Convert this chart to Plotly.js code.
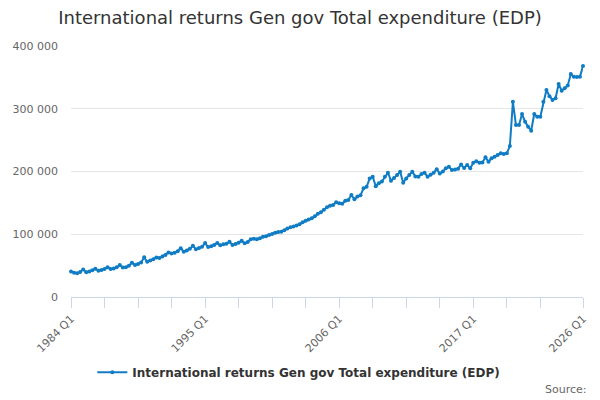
<!DOCTYPE html>
<html>
<head>
<meta charset="utf-8">
<script src="https://cdn.plot.ly/plotly-3.0.1.min.js"></script>
<style>
  html, body { margin: 0; padding: 0; background: #fff; }
  #chart { width: 600px; height: 400px; }
</style>
</head>
<body>
<div id="chart"></div>
<script>
// Quarterly series, 1984 Q1 .. 2026 Q1
var firstYear = 1984;
var seriesName = 'International returns Gen gov Total expenditure (EDP)';
var tickLabels = ['1984 Q1', '1995 Q1', '2006 Q1', '2017 Q1', '2026 Q1'];

var expenditure = [
    40500, 38500, 37800, 40000,   // 1984
    44000, 39500, 40500, 42500,   // 1985
    45000, 42000, 43000, 44500,   // 1986
    47300, 44500, 45500, 47500,   // 1987
    51000, 47000, 47500, 50000,   // 1988
    54700, 51000, 52500, 55000,   // 1989
    63200, 56000, 58000, 60000,   // 1990
    63000, 62000, 64500, 67000,   // 1991
    70800, 69500, 70600, 73000,   // 1992
    77600, 72200, 74000, 77000,   // 1993
    81500, 76000, 78000, 80000,   // 1994
    86000, 79500, 81000, 83000,   // 1995
    86000, 82500, 84000, 85000,   // 1996
    88000, 83000, 84500, 86500,   // 1997
    89500, 85500, 87500, 92000,   // 1998
    93000, 92000, 93500, 96000,   // 1999
    97000, 98800, 100500, 102500, // 2000
    103500, 104000, 106500, 109000, // 2001
    111000, 112500, 114000, 116000, // 2002
    119000, 121600, 123500, 125400, // 2003
    128500, 132500, 135000, 139000, // 2004
    143000, 145500, 146600, 151000, // 2005
    149500, 148500, 153500, 154500, // 2006
    162500, 155700, 160000, 162000, // 2007
    173200, 175500, 189000, 191700, // 2008
    176500, 181200, 184000, 191700, // 2009
    198000, 185300, 189500, 194400, // 2010
    199700, 182000, 189000, 194400, // 2011
    199700, 192000, 191500, 196000, // 2012
    198000, 191700, 195000, 198000, // 2013
    203500, 197000, 200000, 205000, // 2014
    207600, 202400, 203000, 204500, // 2015
    211000, 205500, 210400, 205000, // 2016
    214000, 216500, 214000, 214500, // 2017
    222600, 215700, 221000, 223500, // 2018
    226300, 229000, 228000, 229000, // 2019
    240600, 311000, 274000, 274000, // 2020
    291600, 279400, 271500, 265000, // 2021
    291600, 287300, 287300, 311000, // 2022
    330000, 320000, 314000, 316700, // 2023
    339400, 328800, 332500, 337000, // 2024
    355400, 351000, 350500, 351000, // 2025
    368000                          // 2026 Q1
];

// quarter labels for the category axis
var quarters = [];
for (var i = 0; i < expenditure.length; i++) {
    quarters.push((firstYear + Math.floor(i / 4)) + ' Q' + (i % 4 + 1));
}

// tick marks every 11 quarters, label every 4th mark, plus the last quarter
var tickVals = [];
var tickText = [];
for (var k = 0; k < quarters.length - 11; k += 11) {
    tickVals.push(quarters[k]);
    tickText.push(tickLabels.indexOf(quarters[k]) >= 0 ? quarters[k] : '');
}
tickVals.push(quarters[quarters.length - 1]);
tickText.push(quarters[quarters.length - 1]);

var trace1 = {
    x: quarters,
    y: expenditure,
    type: 'scatter',
    mode: 'lines+markers',
    name: seriesName,
    cliponaxis: false,
    line: { color: '#0f7cc4', width: 2 },
    marker: { color: '#0f7cc4', size: 4 }
};

var layout = {
    width: 600,
    height: 400,
    margin: { l: 71, r: 17, t: 46, b: 103 },
    paper_bgcolor: '#ffffff',
    plot_bgcolor: '#ffffff',
    separators: '. ',
    font: { family: 'DejaVu Sans, sans-serif', color: '#666666', size: 11 },
    title: {
        text: seriesName,
        font: { family: 'DejaVu Sans, sans-serif', size: 18, color: '#333333' },
        x: 0.5,
        xanchor: 'center',
        y: 0.955,
        yanchor: 'middle'
    },
    showlegend: true,
    legend: {
        orientation: 'h',
        x: 0.445,
        xanchor: 'center',
        y: -0.30,
        yanchor: 'middle',
        font: { family: 'DejaVu Sans, sans-serif', size: 12, color: '#333333', weight: 'bold' }
    },
    xaxis: {
        type: 'category',
        range: [0, quarters.length - 1],
        tickmode: 'array',
        tickvals: tickVals,
        ticktext: tickText,
        tickangle: -45,
        ticks: 'outside',
        ticklen: 10,
        tickcolor: '#ccd6eb',
        showline: true,
        linecolor: '#ccd6eb',
        linewidth: 1,
        showgrid: false,
        zeroline: false,
        tickfont: { family: 'DejaVu Sans, sans-serif', size: 11, color: '#666666' }
    },
    yaxis: {
        range: [0, 400000],
        dtick: 100000,
        tickformat: ',d',
        showgrid: true,
        gridcolor: '#e6e6e6',
        zeroline: false,
        showline: false,
        ticklabelstandoff: 12,
        tickfont: { family: 'DejaVu Sans, sans-serif', size: 11, color: '#666666' }
    },
    annotations: [{
        text: 'Source:',
        xref: 'paper',
        yref: 'paper',
        x: 1.012,
        y: -0.37,
        xanchor: 'right',
        yanchor: 'middle',
        showarrow: false,
        font: { family: 'DejaVu Sans, sans-serif', size: 11, color: '#666666' }
    }]
};

var additional_param = {
    displayModeBar: false,      // no plotly buttons
    staticPlot: true
};

Plotly.newPlot('chart', [trace1], layout, additional_param);
</script>
</body>
</html>
